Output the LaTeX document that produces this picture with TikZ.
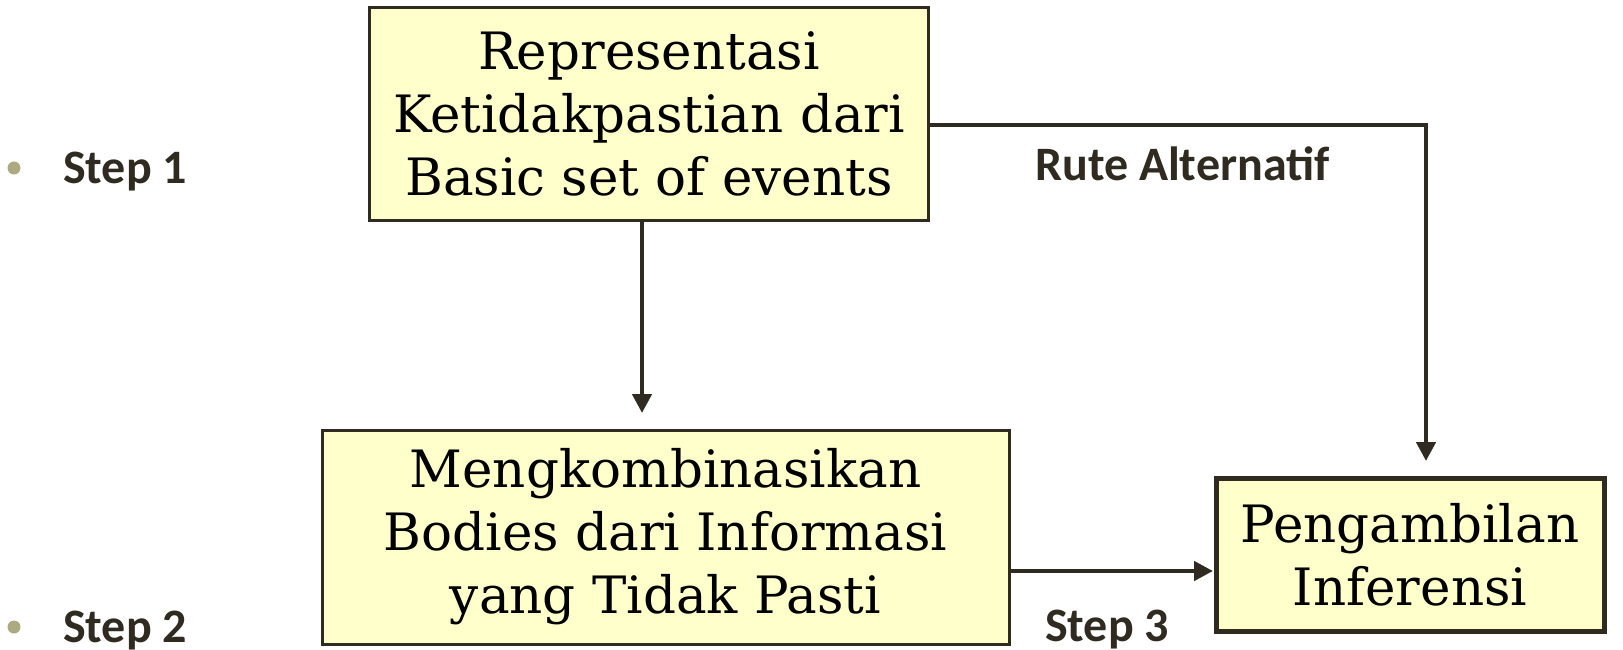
\documentclass[tikz,border=0pt]{standalone}
\usepackage{fontspec}
\setmainfont{DejaVu Serif}
\newfontfamily\labelfont{Carlito}
\usetikzlibrary{arrows.meta}
\definecolor{inkc}{HTML}{2F2B20}
\definecolor{boxfill}{HTML}{FFFFCC}
\definecolor{bulletc}{HTML}{ABAA80}
\tikzset{
  box/.style={draw=inkc, fill=boxfill, line width=3pt, inner sep=0pt, align=center,
    text=black, font=\fontsize{51.5}{63}\selectfont},
  arr/.style={draw=inkc, line width=4.5pt, -{Triangle[length=19pt,width=19pt]}},
  lbl/.style={text=inkc, font=\labelfont\bfseries\fontsize{48}{52}\selectfont, inner sep=0pt, anchor=base west},
  bul/.style={fill=bulletc, draw=none}
}
\begin{document}
\begin{tikzpicture}[x=1pt,y=-1pt]
\useasboundingbox (0,0) rectangle (1623,650);
\node[box, minimum width=559pt, minimum height=212pt] (box1) at (649,114)
  {Representasi\\Ketidakpastian dari\\Basic set of events};
\node[box, minimum width=687pt, minimum height=214pt] (box2) at (665.5,537)
  {Mengkombinasikan\\Bodies dari Informasi\\yang Tidak Pasti};
\node[box, line width=5pt, minimum width=388pt, minimum height=153pt] (box3) at (1410,554.5)
  {Pengambilan\\Inferensi};
\coordinate (tip1) at (642,413);
\coordinate (rc) at (1426,125);
\coordinate (tip2) at (1426,461);
\coordinate (c3) at (1213,571);
\draw[arr] (box1.south -| tip1) -- (tip1);
\draw[arr] (box1.east |- rc) -- (rc) -- (tip2);
\draw[arr] (box2.east |- c3) -- (c3);
\fill[bul] (14,168) circle (6.5pt);
\fill[bul] (14,627) circle (6.5pt);
\node[lbl] (s1) at (63,183) {Step 1};
\node[lbl] (s2) at (63,642) {Step 2};
\node[lbl] (s3) at (1045,641) {Step 3};
\node[lbl] (ra) at (1035,181) {Rute Alternatif};
\end{tikzpicture}
\end{document}
